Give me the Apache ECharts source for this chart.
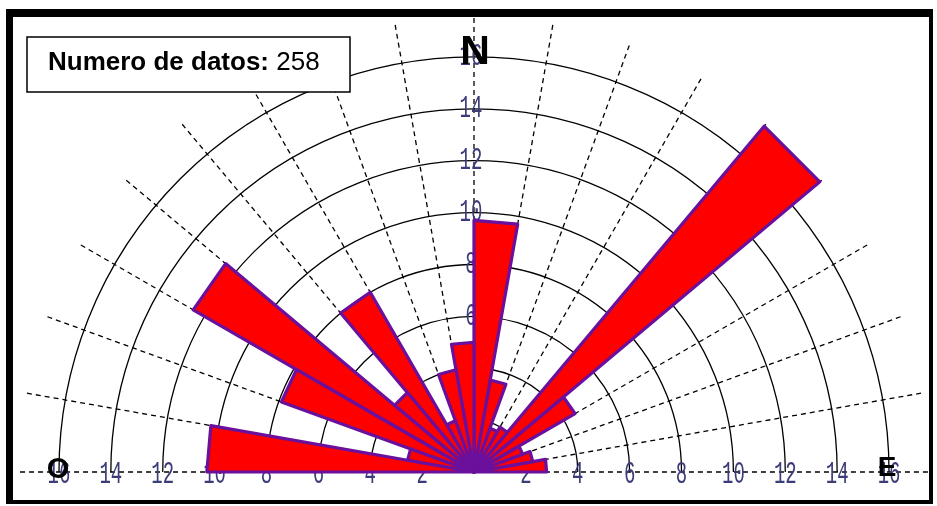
<!DOCTYPE html>
<html>
<head>
<meta charset="utf-8">
<script src="https://cdn.jsdelivr.net/npm/echarts@6/dist/echarts.min.js"></script>
<style>
  html, body { margin: 0; padding: 0; background: #ffffff; }
  #chart { width: 937px; height: 506px; }
</style>
</head>
<body>
<div id="chart"></div>
<script>
// Rose diagram of directions, 10° classes counted counter-clockwise from east (0°) to west (180°)
const binWidth = 10;
const binStart = [0, 10, 20, 30, 40, 50, 60, 70, 80, 90, 100, 110, 120, 130, 140, 150, 160, 170];
const binPercent = [2.8, 2.3, 2.0, 4.5, 17.4, 2.0, 1.8, 3.6, 9.7, 5.0, 4.0, 2.1, 8.0, 4.0, 12.5, 7.9, 2.6, 10.3];

// Ring ticks (percent) and the directions along which they are labelled
const ringTicks = [2, 4, 6, 8, 10, 12, 14, 16];
const tickDirections = [0, 90, 180];

const sampleCount = 258;
const infoLabel = 'Numero de datos:';

// Layout
const CX = 474, CY = 472;
const UNIT = 25.94;          // pixels per percent
const RMAX = 17.5;           // outer extent of the radial guide lines

const chart = echarts.init(document.getElementById('chart'), null, { renderer: 'canvas' });

const ringColors = [];
for (let v = 0; v <= 16; v += 2) ringColors.push('#000000');
ringColors.push('rgba(0,0,0,0)'); // no ring at the outer extent

const barData = binStart.map((a, i) => [binPercent[i], a + binWidth / 2]);
const labelData = [];
tickDirections.forEach(d => ringTicks.forEach(t => labelData.push([t, d])));

const option = {
  backgroundColor: '#ffffff',
  animation: false,
  polar: { center: [CX, CY], radius: RMAX * UNIT },
  angleAxis: {
    type: 'value', min: 0, max: 180, interval: 10,
    startAngle: 0, endAngle: 180, clockwise: false,
    axisLine: { show: false }, axisTick: { show: false }, axisLabel: { show: false },
    splitLine: { show: true, lineStyle: { color: '#000000', width: 1.3, type: [5, 4] } }
  },
  radiusAxis: {
    type: 'value', min: 0, max: RMAX, interval: 2,
    axisLine: { show: false }, axisTick: { show: false }, axisLabel: { show: false },
    splitLine: { show: true, lineStyle: { color: ringColors, width: 1.3 } }
  },
  series: [
    {
      // ring values written along the E, N and W directions
      type: 'custom', coordinateSystem: 'polar', z: 1, silent: true,
      dimensions: ['r', 'a'], encode: { radius: 0, angle: 1 },
      data: labelData,
      renderItem: function (params, api) {
        const p = api.coord([api.value(0), api.value(1)]);
        const vertical = api.value(1) === 90;
        return {
          type: 'text',
          x: p[0] + (vertical ? -3 : 0),
          y: p[1] + (vertical ? 0 : 3),
          scaleX: 0.95, scaleY: 1.55,
          style: {
            text: String(api.value(0)),
            fill: '#3c3c78',
            font: '20px "Liberation Mono", "DejaVu Sans Mono", monospace',
            align: 'center', verticalAlign: 'middle'
          }
        };
      }
    },
    {
      // wedge for each direction class
      type: 'custom', coordinateSystem: 'polar', z: 2, silent: true,
      dimensions: ['r', 'a'], encode: { radius: 0, angle: 1 },
      data: barData,
      renderItem: function (params, api) {
        const r = api.value(0), mid = api.value(1);
        const c = api.coord([0, mid]);
        const p1 = api.coord([r, mid - binWidth / 2]);
        const p2 = api.coord([r, mid + binWidth / 2]);
        return {
          type: 'polygon',
          shape: { points: [c, p1, p2] },
          style: { fill: '#ff0000', stroke: '#6a109c', lineWidth: 3.2, lineJoin: 'round' }
        };
      }
    }
  ],
  graphic: [
    // frame
    { type: 'rect', z: 20, shape: { x: 6, y: 9, width: 927, height: 8 }, style: { fill: '#000' } },
    { type: 'rect', z: 20, shape: { x: 6, y: 9, width: 7, height: 495 }, style: { fill: '#000' } },
    { type: 'rect', z: 20, shape: { x: 929, y: 9, width: 4, height: 495 }, style: { fill: '#000' } },
    { type: 'rect', z: 20, shape: { x: 6, y: 500, width: 927, height: 4 }, style: { fill: '#000' } },
    // info box
    { type: 'rect', z: 20, shape: { x: 27, y: 37, width: 323, height: 55 },
      style: { fill: '#ffffff', stroke: '#000000', lineWidth: 1.5 } },
    { type: 'text', z: 21, x: 48, y: 63,
      style: {
        text: '{b|' + infoLabel + '}{n|\u00a0' + sampleCount + '}',
        verticalAlign: 'middle',
        rich: {
          b: { font: 'bold 26px "Liberation Sans", Arial, sans-serif', fill: '#000' },
          n: { font: '26px "Liberation Sans", Arial, sans-serif', fill: '#000' }
        }
      } },
    // compass letters
    { type: 'text', z: 21, x: 475, y: 53,
      style: { text: 'N', font: 'bold 41px "Liberation Sans", Arial, sans-serif', fill: '#000', align: 'center', verticalAlign: 'middle' } },
    { type: 'text', z: 21, x: 58, y: 470,
      style: { text: 'O', font: 'bold 29px "Liberation Sans", Arial, sans-serif', fill: '#000', align: 'center', verticalAlign: 'middle' } },
    { type: 'text', z: 21, x: 887, y: 468,
      style: { text: 'E', font: 'bold 28px "Liberation Sans", Arial, sans-serif', fill: '#000', align: 'center', verticalAlign: 'middle' } }
  ]
};

chart.setOption(option);
</script>
</body>
</html>
